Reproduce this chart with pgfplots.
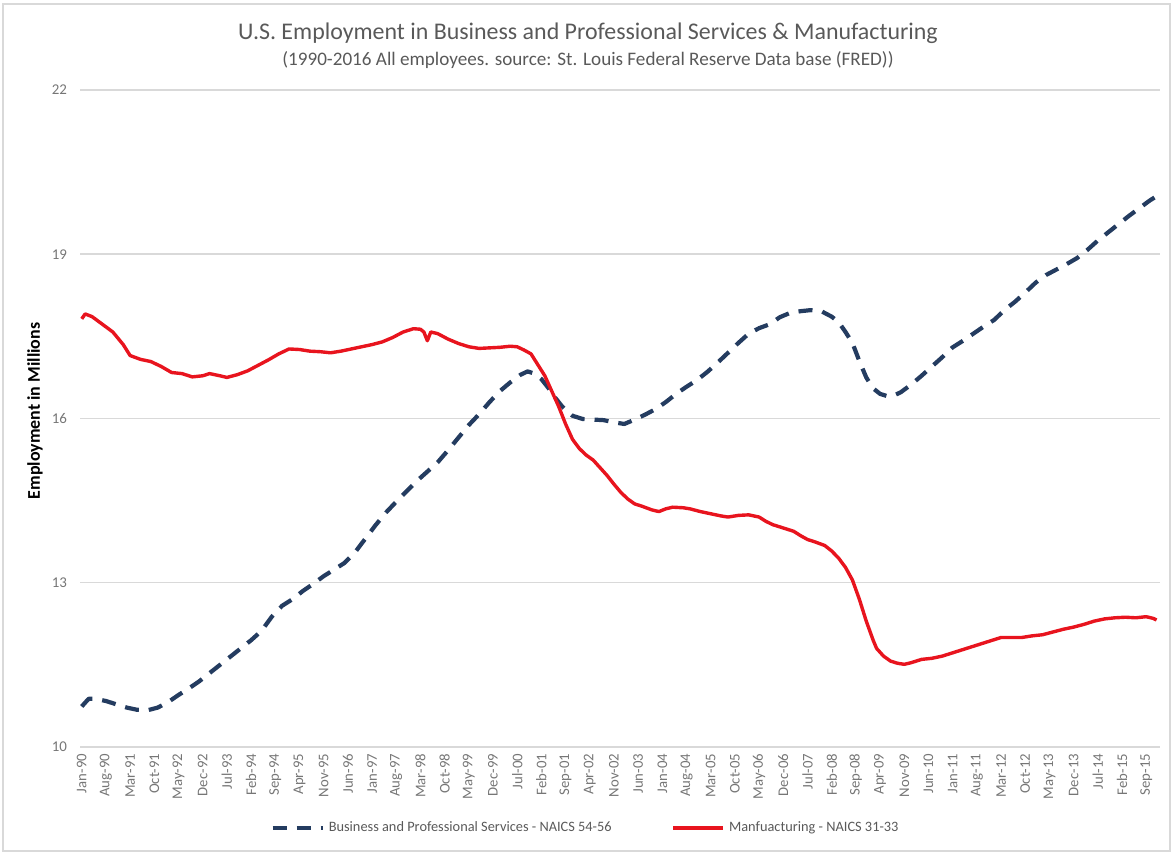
\documentclass[border=0pt]{standalone}
\usepackage{pgfplots}
\pgfplotsset{compat=1.18}
\usepackage{fontspec}
\setmainfont{Carlito}
\definecolor{navy}{RGB}{36,60,96}
\definecolor{mred}{RGB}{232,20,30}
\definecolor{gridc}{RGB}{217,217,217}
\definecolor{txtgray}{RGB}{89,89,89}
\definecolor{tickgray}{RGB}{118,118,118}
\begin{document}
\begin{tikzpicture}
\useasboundingbox (0,0) rectangle (586.5bp,427bp);
\draw[gridc, line width=0.6bp] (1.5bp,1.5bp) rectangle (585bp,425bp);
\node[txtgray, font=\fontsize{12}{14}\selectfont] at (294bp,410.5bp) {U.S. Employment in Business and Professional Services \& Manufacturing};
\node[txtgray, font=\fontsize{9.6}{11}\selectfont] at (294bp,397bp) {(1990-2016 All employees. source: St. Louis Federal Reserve Data base (FRED))};
\node[rotate=90, font=\bfseries\fontsize{9}{10}\selectfont] at (17.5bp,221.5bp) {Employment in Millions};
\begin{axis}[
  at={(40bp,53.5bp)}, anchor=south west, scale only axis,
  width=540bp, height=328.5bp,
  xmin=-0.5, xmax=312, ymin=10, ymax=22,
  ytick={10,13,16,19,22},
  xtick={0,7,...,308},
  xticklabels={Jan-90,Aug-90,Mar-91,Oct-91,May-92,Dec-92,Jul-93,Feb-94,Sep-94,Apr-95,Nov-95,Jun-96,Jan-97,Aug-97,Mar-98,Oct-98,May-99,Dec-99,Jul-00,Feb-01,Sep-01,Apr-02,Nov-02,Jun-03,Jan-04,Aug-04,Mar-05,Oct-05,May-06,Dec-06,Jul-07,Feb-08,Sep-08,Apr-09,Nov-09,Jun-10,Jan-11,Aug-11,Mar-12,Oct-12,May-13,Dec-13,Jul-14,Feb-15,Sep-15},
  axis line style={draw=none},
  major tick length=0pt,
  ymajorgrids,
  grid style={gridc, line width=0.75bp},
  xticklabel style={rotate=90, anchor=east, font=\fontsize{7.4}{8}\selectfont, text=tickgray},
  yticklabel style={font=\fontsize{7.5}{9}\selectfont, text=tickgray},
  yticklabel shift=3bp,
  /pgf/number format/assume math mode=true,
  legend style={at={(0.469,-0.1233)}, anchor=center, draw=none, fill=none,
    font=\fontsize{7.2}{8.5}\selectfont, text=txtgray,
    /tikz/every even column/.append style={column sep=28bp}},
  legend columns=2,
  legend image code/.code={\draw[#1] (0bp,0bp) -- (25bp,0bp);},
]
\addplot[navy, line width=2.1bp, dash pattern=on 7bp off 5bp, line join=round] coordinates {
(0,10.74)(2,10.88)(4,10.88)(7,10.84)(10,10.78)(13,10.72)(16,10.68)(19,10.67)(22,10.72)(25,10.82)
(28,10.95)(31,11.07)(34,11.20)(37,11.35)(40,11.50)(43,11.65)(46,11.80)(49,11.95)(52,12.12)(55,12.38)
(58,12.58)(61,12.70)(64,12.85)(67,12.98)(70,13.12)(73,13.24)(76,13.36)(79,13.55)(82,13.80)(85,14.05)
(88,14.28)(91,14.48)(94,14.67)(97,14.86)(100,15.03)(103,15.20)(106,15.42)(109,15.65)(112,15.88)(115,16.08)
(118,16.30)(121,16.50)(124,16.66)(127,16.80)(129,16.86)(131,16.82)(133,16.72)(135,16.56)(137,16.38)(139,16.22)
(142,16.05)(145,15.99)(148,15.98)(151,15.97)(154,15.93)(157,15.90)(160,15.98)(163,16.07)(166,16.17)(169,16.30)
(172,16.45)(175,16.58)(178,16.70)(181,16.85)(184,17.02)(187,17.20)(190,17.38)(193,17.55)(196,17.65)(199,17.72)
(202,17.85)(205,17.93)(208,17.96)(211,17.98)(214,17.96)(217,17.86)(219,17.76)(221,17.58)(223,17.38)(225,17.05)
(227,16.75)(229,16.55)(231,16.45)(233,16.41)(235,16.42)(237,16.48)(240,16.62)(243,16.78)(246,16.95)(249,17.12)
(252,17.30)(255,17.42)(258,17.55)(261,17.68)(264,17.80)(267,17.98)(270,18.13)(273,18.30)(276,18.48)(279,18.62)
(282,18.72)(285,18.82)(288,18.93)(291,19.08)(294,19.25)(297,19.40)(300,19.55)(303,19.70)(306,19.84)(309,19.98)
(311,20.06)
};
\addlegendentry{Business and Professional Services - NAICS 54-56}
\addplot[mred, line width=1.7bp, line join=round] coordinates {
(0,17.82)(1,17.91)(3,17.86)(6,17.72)(9,17.58)(12,17.35)(14,17.15)(17,17.08)(20,17.04)(23,16.95)
(26,16.84)(29,16.82)(32,16.76)(35,16.78)(37,16.82)(40,16.78)(42,16.75)(45,16.80)(48,16.87)(51,16.97)
(54,17.07)(57,17.18)(60,17.27)(63,17.26)(66,17.23)(69,17.22)(72,17.20)(75,17.23)(78,17.27)(81,17.31)
(84,17.35)(87,17.40)(90,17.48)(93,17.58)(96,17.64)(98,17.63)(99,17.58)(100,17.42)(101,17.58)(103,17.55)
(106,17.45)(109,17.37)(112,17.31)(115,17.28)(118,17.29)(121,17.30)(124,17.32)(126,17.31)(128,17.25)(130,17.18)
(132,16.98)(134,16.78)(136,16.50)(138,16.22)(140,15.90)(142,15.62)(144,15.45)(146,15.33)(148,15.24)(150,15.10)
(152,14.96)(154,14.80)(156,14.65)(158,14.53)(160,14.44)(162,14.40)(165,14.33)(167,14.30)(169,14.35)(171,14.38)
(174,14.37)(176,14.35)(179,14.30)(182,14.26)(185,14.22)(187,14.20)(190,14.23)(193,14.24)(196,14.20)(198,14.12)
(200,14.06)(203,14.00)(206,13.94)(208,13.86)(210,13.79)(212,13.75)(215,13.68)(217,13.58)(219,13.45)(221,13.28)
(223,13.05)(225,12.70)(227,12.30)(229,11.95)(230,11.80)(232,11.66)(234,11.57)(236,11.53)(238,11.51)(240,11.54)
(243,11.60)(246,11.62)(249,11.66)(252,11.72)(255,11.78)(258,11.84)(261,11.90)(264,11.96)(266,12.00)(269,12.00)
(272,12.00)(275,12.03)(278,12.05)(281,12.10)(284,12.15)(287,12.19)(290,12.24)(293,12.30)(296,12.34)(299,12.36)
(302,12.37)(305,12.36)(308,12.38)(310,12.35)(311,12.32)
};
\addlegendentry{Manfuacturing - NAICS 31-33}
\end{axis}
\end{tikzpicture}
\end{document}
